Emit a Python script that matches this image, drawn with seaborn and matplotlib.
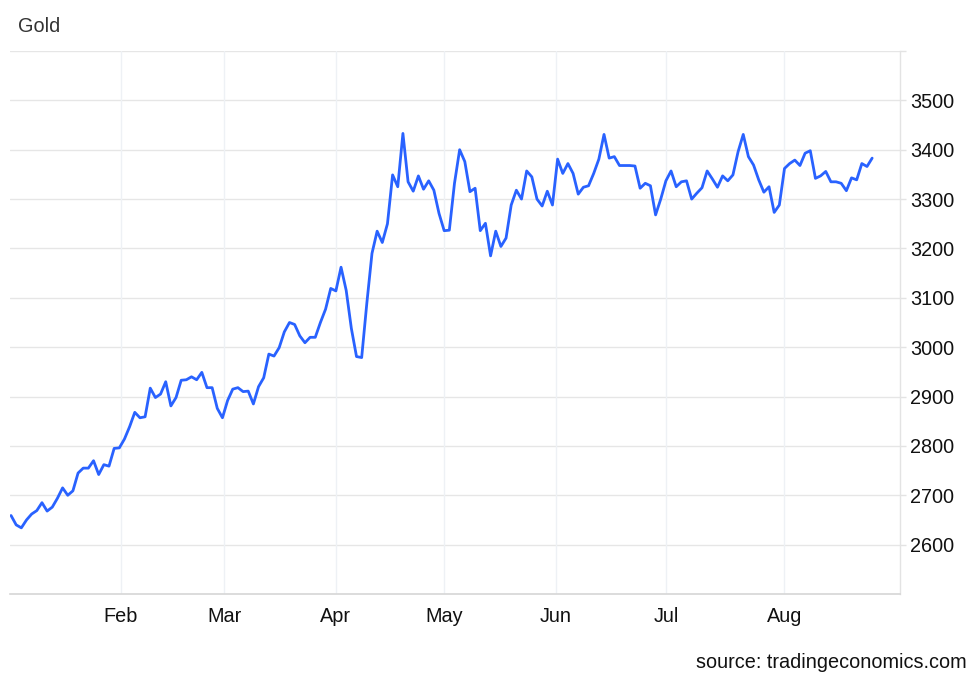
import numpy as np
import pandas as pd
import seaborn as sns
import matplotlib
matplotlib.use('Agg')
import matplotlib.pyplot as plt

# trading days Jan 2 - Aug 26 2025 (no Good Friday)
dates = pd.bdate_range('2025-01-02', '2025-08-26')
dates = dates[dates != pd.Timestamp('2025-04-18')]

prices = [
    2659, 2640, 2634, 2650, 2662, 2669, 2685, 2668, 2676, 2694,
    2715, 2700, 2709, 2745, 2755, 2755, 2770, 2742, 2762, 2759,
    2795, 2796, 2814, 2839, 2868, 2857, 2859, 2917, 2898, 2905,
    2930, 2881, 2898, 2933, 2934, 2940, 2934, 2949, 2918, 2918,
    2876, 2857, 2892, 2915, 2918, 2910, 2911, 2885, 2920, 2938,
    2986, 2982, 2999, 3031, 3050, 3046, 3023, 3009, 3020, 3020,
    3050, 3077, 3119, 3114, 3162, 3115, 3038, 2981, 2979, 3089,
    3190, 3235, 3212, 3250, 3349, 3325, 3433, 3335, 3316, 3347,
    3320, 3337, 3318, 3271, 3236, 3237, 3332, 3400, 3376, 3315,
    3322, 3236, 3251, 3185, 3235, 3204, 3221, 3288, 3318, 3300,
    3357, 3345, 3300, 3286, 3316, 3288, 3381, 3352, 3372, 3352,
    3310, 3324, 3327, 3352, 3381, 3431, 3383, 3386, 3368, 3368,
    3368, 3367, 3322, 3332, 3327, 3268, 3300, 3337, 3357, 3325,
    3335, 3337, 3300, 3312, 3323, 3357, 3341, 3324, 3347, 3337,
    3349, 3396, 3431, 3386, 3369, 3339, 3314, 3325, 3273, 3288,
    3362, 3372, 3379, 3368, 3393, 3398, 3342, 3347, 3356, 3335,
    3335, 3332, 3317, 3343, 3339, 3372, 3366, 3383,
]

month_labels = ['Feb', 'Mar', 'Apr', 'May', 'Jun', 'Jul', 'Aug']
month_starts = pd.to_datetime(['2025-02-01', '2025-03-01', '2025-04-01', '2025-05-01',
                               '2025-06-01', '2025-07-01', '2025-08-01'])
y_ticks = [2600, 2700, 2800, 2900, 3000, 3100, 3200, 3300, 3400, 3500, 3600]

df = pd.DataFrame({'date': dates, 'price': prices})
df['pos'] = np.arange(len(df))  # ordinal axis: evenly spaced trading days

sns.set_style('white')
plt.rcParams['font.family'] = ['Liberation Sans', 'DejaVu Sans']

fig = plt.figure(figsize=(9.8, 6.79), dpi=100)
ax = fig.add_axes([10 / 980, 85 / 679, 890 / 980, 543 / 679])

sns.lineplot(data=df, x='pos', y='price', ax=ax, color='#2962ff', linewidth=2.0)

ax.set_xlim(-0.2, 172.4)
ax.set_ylim(2500, 3600)

# month ticks placed between trading days, like an ordinal time axis
tick_pos = np.interp(month_starts.astype('int64'), df['date'].astype('int64'), df['pos'])
ax.set_xticks(tick_pos)
ax.set_xticklabels(month_labels)
ax.set_yticks(y_ticks)
ax.set_yticklabels([str(v) if v < 3600 else '' for v in y_ticks])
ax.yaxis.tick_right()

ax.set_xlabel('')
ax.set_ylabel('')

ax.tick_params(axis='x', length=0, pad=9, labelsize=14.3, colors='#111111')
ax.tick_params(axis='y', length=4, width=1, color='#e3e3e3', pad=3, labelsize=14.3,
               labelcolor='#111111')

ax.grid(False)
for v in y_ticks:
    ax.axhline(v, color='#e6e6e6', linewidth=1, zorder=0)
for p in tick_pos:
    ax.axvline(p, color='#eef1f5', linewidth=1, zorder=0)

for s in ['top', 'left']:
    ax.spines[s].set_visible(False)
ax.spines['bottom'].set_color('#d6d6d6')
ax.spines['bottom'].set_linewidth(1.2)
ax.spines['right'].set_color('#e3e3e3')
ax.spines['right'].set_linewidth(1)

fig.text(18 / 980, 1 - 26 / 679, 'Gold', fontsize=14.3, color='#333333', va='center', ha='left')
fig.text(967 / 980, 1 - 662 / 679, 'source: tradingeconomics.com', fontsize=14.3,
         color='#111111', va='center', ha='right')

fig.savefig('out.png', dpi=100)
